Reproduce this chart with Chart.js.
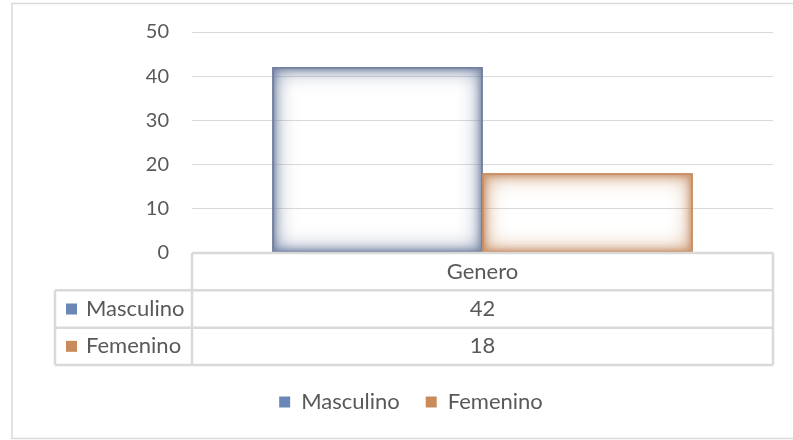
<!DOCTYPE html>
<html>
<head>
<meta charset="utf-8">
<script src="https://cdn.jsdelivr.net/npm/chart.js@4.4.1/dist/chart.umd.min.js"></script>
<style>
  html, body { margin: 0; padding: 0; background: #ffffff; }
  #wrap { width: 793px; height: 440px; }
</style>
</head>
<body>
<div id="wrap"><canvas id="c" width="793" height="440"></canvas></div>
<script>
const categories = ['Genero'];
const seriesNames = ['Masculino', 'Femenino'];
const masculinoValues = [42];
const femeninoValues = [18];
const yTicks = [0, 10, 20, 30, 40, 50];

const swatchColors = ['#6a87b8', '#c98b5c'];
const glowColors = ['rgba(112,128,160,1)', 'rgba(200,142,100,1)'];
const FONT = 'Lato, "Noto Sans", sans-serif';
const TEXT = '#595959';
const LINE = '#d9d9d9';

const framePlugin = {
  id: 'frame',
  beforeDraw(chart) {
    const ctx = chart.ctx;
    ctx.save();
    ctx.fillStyle = '#ffffff';
    ctx.fillRect(0, 0, chart.width, chart.height);
    ctx.strokeStyle = LINE;
    ctx.lineWidth = 1.5;
    ctx.strokeRect(12, 3.5, chart.width + 10, chart.height - 5);
    ctx.restore();
  }
};

const glowPlugin = {
  id: 'glow',
  afterDatasetsDraw(chart) {
    const ctx = chart.ctx;
    chart.data.datasets.forEach((ds, i) => {
      const meta = chart.getDatasetMeta(i);
      meta.data.forEach(bar => {
        const p = bar.getProps(['x', 'y', 'base', 'width'], true);
        const l = p.x - p.width / 2, t = Math.min(p.y, p.base);
        const w = p.width, h = Math.abs(p.base - p.y);
        ctx.save();
        ctx.beginPath();
        ctx.rect(l, t, w, h);
        ctx.clip();
        ctx.fillStyle = glowColors[i];
        ctx.shadowColor = glowColors[i];
        [[22, 0.9], [10, 0.9], [4, 0.7]].forEach(([blur, a]) => {
          ctx.globalAlpha = a;
          ctx.shadowBlur = blur;
          ctx.beginPath();
          ctx.rect(l - 80, t - 80, w + 160, h + 160);
          ctx.rect(l + 1, t + 1, w - 2, h - 2);
          ctx.fill('evenodd');
        });
        ctx.restore();
      });
    });
  }
};

const tablePlugin = {
  id: 'dataTable',
  afterDraw(chart) {
    const ctx = chart.ctx;
    const area = chart.chartArea;
    const xs = chart.scales.x;
    const top = area.bottom;
    const bottom = xs.bottom;
    const rowH = (bottom - top) / 3;
    const tableLeft = 55;
    ctx.save();
    ctx.strokeStyle = LINE;
    ctx.lineWidth = 2.5;
    ctx.beginPath();
    ctx.moveTo(area.left, top); ctx.lineTo(area.right, top);
    for (let r = 1; r <= 3; r++) {
      const y = top + rowH * r;
      ctx.moveTo(tableLeft, y); ctx.lineTo(area.right, y);
    }
    ctx.moveTo(area.left, top); ctx.lineTo(area.left, bottom);
    ctx.moveTo(area.right, top); ctx.lineTo(area.right, bottom);
    ctx.moveTo(tableLeft, top + rowH); ctx.lineTo(tableLeft, bottom);
    ctx.stroke();

    ctx.fillStyle = TEXT;
    ctx.font = '22px ' + FONT;
    ctx.textBaseline = 'middle';
    ctx.textAlign = 'center';
    categories.forEach((c, ci) => {
      const cx = xs.getPixelForValue(ci);
      ctx.fillText(c, cx, top + rowH * 0.5);
      chart.data.datasets.forEach((ds, di) => {
        ctx.fillText(String(ds.data[ci]), cx, top + rowH * (di + 1.5));
      });
    });
    ctx.textAlign = 'left';
    chart.data.datasets.forEach((ds, di) => {
      const cy = top + rowH * (di + 1.5);
      ctx.fillStyle = swatchColors[di];
      ctx.fillRect(66, cy - 5.5, 11, 11);
      ctx.fillStyle = TEXT;
      ctx.fillText(ds.label, 86, cy);
    });
    ctx.restore();
  }
};

new Chart(document.getElementById('c'), {
  type: 'bar',
  data: {
    labels: categories,
    datasets: [
      { label: seriesNames[0], data: masculinoValues, backgroundColor: 'rgba(255,255,255,0)', borderWidth: 0 },
      { label: seriesNames[1], data: femeninoValues, backgroundColor: 'rgba(255,255,255,0)', borderWidth: 0 }
    ]
  },
  options: {
    responsive: false,
    animation: false,
    devicePixelRatio: 1,
    categoryPercentage: 0.723,
    barPercentage: 1.0,
    layout: { padding: { top: 32, left: 49, right: 20, bottom: 17 } },
    scales: {
      x: {
        grid: { display: false, drawTicks: false },
        border: { display: false },
        ticks: { display: false },
        afterFit(scale) { scale.height = 112; }
      },
      y: {
        min: 0, max: 50,
        afterBuildTicks(scale) { scale.ticks = yTicks.map(v => ({ value: v })); },
        grid: { color: LINE, lineWidth: 1, drawTicks: false },
        border: { display: false },
        ticks: { color: TEXT, font: { family: FONT, size: 20 }, padding: 23 },
        afterFit(scale) { scale.width = 143; scale.paddingTop = 0; scale.paddingBottom = 0; }
      }
    },
    plugins: {
      legend: {
        position: 'bottom',
        labels: {
          color: TEXT,
          font: { family: FONT, size: 22 },
          boxWidth: 11, boxHeight: 11,
          padding: 26,
          generateLabels(chart) {
            return chart.data.datasets.map((ds, i) => ({
              text: ds.label, fillStyle: swatchColors[i], strokeStyle: swatchColors[i],
              lineWidth: 0, datasetIndex: i, fontColor: TEXT
            }));
          }
        }
      },
      tooltip: { enabled: false }
    }
  },
  plugins: [framePlugin, glowPlugin, tablePlugin]
});
</script>
</body>
</html>
